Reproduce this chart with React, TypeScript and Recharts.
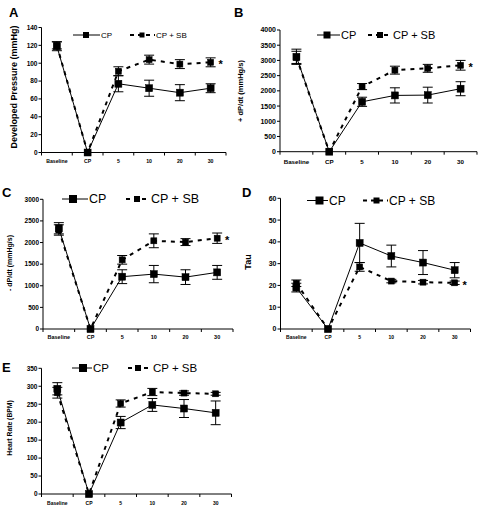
import React from "react";
import { LineChart, Line, XAxis, YAxis, ErrorBar, LabelList } from "recharts";

const FONT = '"Liberation Sans", Arial, Helvetica, sans-serif';

// ---------- data ----------
const categories = ["Baseline", "CP", "5", "10", "20", "30"];
const seriesNames = ["CP", "CP + SB"];

// A: Developed Pressure (mmHg)
const pressureCP = [119, 0, 77, 72, 67, 72];
const pressureCPErr = [5, 0, 9, 9, 9, 5];
const pressureSB = [120, 0, 91, 104, 99, 101];
const pressureSBErr = [4, 0, 5, 5, 5, 5];
const pressureTicks = [0, 20, 40, 60, 80, 100, 120, 140];

// B: + dP/dt (mmHg/s)
const posDpdtCP = [3120, 0, 1640, 1850, 1860, 2070];
const posDpdtCPErr = [250, 0, 150, 250, 260, 230];
const posDpdtSB = [3100, 0, 2140, 2680, 2740, 2840];
const posDpdtSBErr = [200, 0, 100, 130, 130, 160];
const posDpdtTicks = [0, 500, 1000, 1500, 2000, 2500, 3000, 3500, 4000];

// C: - dP/dt (mmHg/s)
const negDpdtCP = [2330, 0, 1210, 1270, 1200, 1310];
const negDpdtCPErr = [130, 0, 160, 200, 170, 160];
const negDpdtSB = [2290, 0, 1600, 2040, 2010, 2100];
const negDpdtSBErr = [120, 0, 100, 160, 80, 120];
const negDpdtTicks = [0, 500, 1000, 1500, 2000, 2500, 3000];

// D: Tau
const tauCP = [19, 0, 39.5, 33.5, 30.5, 27];
const tauCPErr = [2, 0, 9, 5, 5.5, 3.5];
const tauSB = [21, 0, 28.5, 22, 21.5, 21.2];
const tauSBErr = [1.5, 0, 2, 0.8, 0.8, 0.8];
const tauTicks = [0, 10, 20, 30, 40, 50, 60];

// E: Heart Rate (BPM)
const hrCP = [293, 0, 199, 248, 238, 226];
const hrCPErr = [17, 0, 17, 18, 25, 33];
const hrSB = [282, 0, 252, 284, 281, 279];
const hrSBErr = [15, 0, 10, 10, 6, 4];
const hrTicks = [0, 50, 100, 150, 200, 250, 300, 350];

const xTicks = [-0.5, 0, 0.5, 1, 1.5, 2, 2.5, 3, 3.5, 4, 4.5, 5, 5.5];

// ---------- layout / style ----------
type Legend = {
  y: number; cpX1: number; cpX2: number; cpSq: number; cpSize: number; cpText: number;
  sbX1: number; sbX2: number; sbSq: number; sbSize: number; sbText: number; font: number;
};
type Spec = {
  id: string; letter: string; letterX: number; letterY: number;
  boxLeft: number; boxTop: number; boxW: number;
  plotLeft: number; plotRight: number; plotTop: number; plotBottom: number;
  yTicks: number[]; title: string; titleX: number; titleY: number; titleSize: number;
  yTickFont: number; xTickFont: number; xLabelDy: number; star: boolean;
  cp: number[]; cpErr: number[]; sb: number[]; sbErr: number[];
  legend: Legend;
};

const panels: Spec[] = [
  {
    id: "A", letter: "A", letterX: 9, letterY: 17,
    boxLeft: 0, boxTop: 0, boxW: 240,
    plotLeft: 41.5, plotRight: 226, plotTop: 27.5, plotBottom: 152.5,
    yTicks: pressureTicks, title: "Developed Pressure (mmHg)", titleX: 14, titleY: 87, titleSize: 9,
    yTickFont: 6.5, xTickFont: 5.2, xLabelDy: 8.5, star: true,
    cp: pressureCP, cpErr: pressureCPErr, sb: pressureSB, sbErr: pressureSBErr,
    legend: { y: 35, cpX1: 73, cpX2: 100, cpSq: 86, cpSize: 6, cpText: 101, sbX1: 130, sbX2: 155, sbSq: 142, sbSize: 5, sbText: 156, font: 8 },
  },
  {
    id: "B", letter: "B", letterX: 234, letterY: 17,
    boxLeft: 240, boxTop: 0, boxW: 239,
    plotLeft: 280, plotRight: 477, plotTop: 30, plotBottom: 151.7,
    yTicks: posDpdtTicks, title: "+ dP/dt (mmHg/s)", titleX: 240, titleY: 91, titleSize: 7.5,
    yTickFont: 7, xTickFont: 6.2, xLabelDy: 10, star: true,
    cp: posDpdtCP, cpErr: posDpdtCPErr, sb: posDpdtSB, sbErr: posDpdtSBErr,
    legend: { y: 35, cpX1: 317, cpX2: 340, cpSq: 327, cpSize: 7, cpText: 341, sbX1: 368, sbX2: 392, sbSq: 380, sbSize: 6, sbText: 393, font: 11 },
  },
  {
    id: "C", letter: "C", letterX: 2, letterY: 197,
    boxLeft: 0, boxTop: 165, boxW: 240,
    plotLeft: 43, plotRight: 233, plotTop: 199.3, plotBottom: 329,
    yTicks: negDpdtTicks, title: "- dP/dt (mmHg/s)", titleX: 9, titleY: 263, titleSize: 7,
    yTickFont: 6.5, xTickFont: 5.5, xLabelDy: 7.5, star: true,
    cp: negDpdtCP, cpErr: negDpdtCPErr, sb: negDpdtSB, sbErr: negDpdtSBErr,
    legend: { y: 199, cpX1: 62, cpX2: 88, cpSq: 73, cpSize: 8, cpText: 89, sbX1: 126, sbX2: 150, sbSq: 137, sbSize: 6, sbText: 151, font: 12.5 },
  },
  {
    id: "D", letter: "D", letterX: 242, letterY: 197,
    boxLeft: 240, boxTop: 165, boxW: 239,
    plotLeft: 280.5, plotRight: 470.5, plotTop: 198.3, plotBottom: 329,
    yTicks: tauTicks, title: "Tau", titleX: 248, titleY: 262, titleSize: 9,
    yTickFont: 7, xTickFont: 5, xLabelDy: 8, star: true,
    cp: tauCP, cpErr: tauCPErr, sb: tauSB, sbErr: tauSBErr,
    legend: { y: 200.5, cpX1: 307, cpX2: 328, cpSq: 319.5, cpSize: 8, cpText: 329, sbX1: 363, sbX2: 388, sbSq: 376.5, sbSize: 6, sbText: 389, font: 12 },
  },
  {
    id: "E", letter: "E", letterX: 2, letterY: 372,
    boxLeft: 0, boxTop: 335, boxW: 240,
    plotLeft: 41.5, plotRight: 231.5, plotTop: 368.3, plotBottom: 494,
    yTicks: hrTicks, title: "Heart Rate (BPM)", titleX: 9, titleY: 428, titleSize: 6.8,
    yTickFont: 6.5, xTickFont: 5, xLabelDy: 9, star: false,
    cp: hrCP, cpErr: hrCPErr, sb: hrSB, sbErr: hrSBErr,
    legend: { y: 368, cpX1: 72, cpX2: 92, cpSq: 83, cpSize: 8, cpText: 93, sbX1: 128, sbX2: 152, sbSq: 138, sbSize: 6, sbText: 153, font: 11.5 },
  },
];

const X_AXIS_H = 16;

function squareDot(size: number) {
  return (props: any) => {
    const { cx, cy, index } = props;
    if (cx == null || cy == null) return <g key={`e-${index}`} />;
    return (
      <rect
        key={`sq-${index}`}
        x={cx - size / 2}
        y={cy - size / 2}
        width={size}
        height={size}
        fill="#000"
        stroke="#000"
        strokeWidth={0.5}
      />
    );
  };
}

function starLabel(props: any) {
  const { index } = props;
  if (index !== categories.length - 1) return null;
  const vb = props.viewBox || {};
  const x = vb.x ?? props.x;
  const y = vb.y ?? props.y;
  if (x == null || y == null) return null;
  return (
    <text
      x={x + 10}
      y={y + 6}
      textAnchor="middle"
      fontSize={11}
      fontWeight={700}
      fontFamily={FONT}
      fill="#000"
    >
      *
    </text>
  );
}

function Panel({ spec }: { spec: Spec }) {
  const data = categories.map((c, i) => ({
    idx: i,
    name: c,
    cp: spec.cp[i],
    cpErr: spec.cpErr[i],
    sb: spec.sb[i],
    sbErr: spec.sbErr[i],
  }));
  const boxH = spec.plotBottom + X_AXIS_H - spec.boxTop;
  const margin = {
    top: spec.plotTop - spec.boxTop,
    right: spec.boxLeft + spec.boxW - spec.plotRight,
    bottom: 0,
    left: 0,
  };
  const yMax = spec.yTicks[spec.yTicks.length - 1];

  const renderXTick = (props: any) => {
    const { x, y, payload, index } = props;
    const v = payload.value;
    if (Number.isInteger(v)) {
      return (
        <text
          key={`xt-${index}`}
          x={x}
          y={y + spec.xLabelDy}
          textAnchor="middle"
          dominantBaseline="central"
          fontSize={spec.xTickFont}
          fontWeight={700}
          fontFamily={FONT}
          fill="#000"
        >
          {categories[v]}
        </text>
      );
    }
    return <line key={`xt-${index}`} x1={x} x2={x} y1={y} y2={y + 3} stroke="#000" strokeWidth={1} />;
  };

  return (
    <div style={{ position: "absolute", left: spec.boxLeft, top: spec.boxTop }}>
      <LineChart width={spec.boxW} height={boxH} data={data} margin={margin}>
        <XAxis
          type="number"
          dataKey="idx"
          domain={[-0.5, 5.5]}
          ticks={xTicks}
          interval={0}
          allowDataOverflow
          tickLine={false}
          tickSize={0}
          tickMargin={0}
          height={X_AXIS_H}
          axisLine={{ stroke: "#000", strokeWidth: 1 }}
          tick={renderXTick}
        />
        <YAxis
          type="number"
          domain={[0, yMax]}
          ticks={spec.yTicks}
          interval={0}
          width={spec.plotLeft - spec.boxLeft}
          tickSize={3}
          tickMargin={1}
          axisLine={{ stroke: "#000", strokeWidth: 1 }}
          tickLine={{ stroke: "#000", strokeWidth: 1 }}
          tick={{ fontSize: spec.yTickFont, fontWeight: 700, fill: "#000", fontFamily: FONT }}
        />
        <Line
          type="linear"
          dataKey="sb"
          name={seriesNames[1]}
          stroke="#000"
          strokeWidth={2}
          strokeDasharray="4 5"
          dot={squareDot(6)}
          activeDot={false}
          isAnimationActive={false}
        >
          <ErrorBar dataKey="sbErr" width={5} stroke="#000" strokeWidth={1} direction="y" />
          {spec.star ? <LabelList dataKey="sb" content={starLabel} /> : null}
        </Line>
        <Line
          type="linear"
          dataKey="cp"
          name={seriesNames[0]}
          stroke="#000"
          strokeWidth={1}
          dot={squareDot(7)}
          activeDot={false}
          isAnimationActive={false}
        >
          <ErrorBar dataKey="cpErr" width={5} stroke="#000" strokeWidth={1} direction="y" />
        </Line>
      </LineChart>
    </div>
  );
}

function Overlay() {
  return (
    <svg
      width={479}
      height={506}
      style={{ position: "absolute", left: 0, top: 0, pointerEvents: "none" }}
    >
      {panels.map((p) => {
        const L = p.legend;
        return (
          <g key={p.id}>
            <text x={p.letterX} y={p.letterY} fontSize={13} fontWeight={700} fontFamily={FONT} fill="#000">
              {p.letter}
            </text>
            <text
              x={p.titleX}
              y={p.titleY}
              transform={`rotate(-90, ${p.titleX}, ${p.titleY})`}
              textAnchor="middle"
              dominantBaseline="central"
              fontSize={p.titleSize}
              fontWeight={700}
              fontFamily={FONT}
              fill="#000"
            >
              {p.title}
            </text>
            <line x1={L.cpX1} x2={L.cpX2} y1={L.y} y2={L.y} stroke="#000" strokeWidth={1} />
            <rect x={L.cpSq - L.cpSize / 2} y={L.y - L.cpSize / 2} width={L.cpSize} height={L.cpSize} fill="#000" />
            <text x={L.cpText} y={L.y} dominantBaseline="central" fontSize={L.font} fontFamily={FONT} fill="#000">
              {seriesNames[0]}
            </text>
            <line x1={L.sbX1} x2={L.sbX2} y1={L.y} y2={L.y} stroke="#000" strokeWidth={2} strokeDasharray="4 4" />
            <rect x={L.sbSq - L.sbSize / 2} y={L.y - L.sbSize / 2} width={L.sbSize} height={L.sbSize} fill="#000" />
            <text x={L.sbText} y={L.y} dominantBaseline="central" fontSize={L.font} fontFamily={FONT} fill="#000">
              {seriesNames[1]}
            </text>
          </g>
        );
      })}
    </svg>
  );
}

export default function App() {
  return (
    <div
      style={{
        position: "absolute",
        left: 0,
        top: 0,
        width: 479,
        height: 506,
        overflow: "hidden",
        background: "#fff",
        fontFamily: FONT,
      }}
    >
      {panels.map((p) => (
        <Panel key={p.id} spec={p} />
      ))}
      <Overlay />
    </div>
  );
}
